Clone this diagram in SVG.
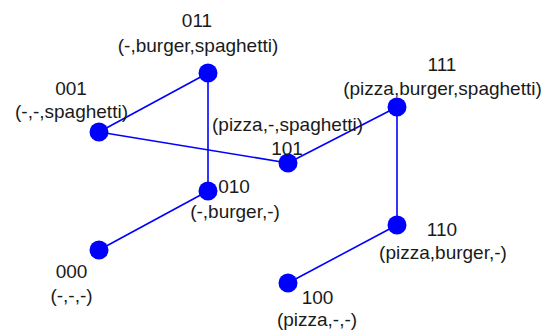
<svg xmlns="http://www.w3.org/2000/svg" width="544" height="332" viewBox="0 0 544 332">
<style>
.e{stroke:#0000ff;stroke-width:1.6;fill:none}
.n{fill:#0000ff}
text{font-family:"Liberation Sans",Arial,sans-serif;font-size:19px;fill:#1a1a1a;text-anchor:middle}
</style>
<rect width="544" height="332" fill="#ffffff"/>
<g id="connectors">
<line class="e" x1="99" y1="132" x2="208" y2="73"/>
<line class="e" x1="99" y1="132" x2="288" y2="163"/>
<line class="e" x1="208" y1="73" x2="208" y2="191"/>
<line class="e" x1="288" y1="163" x2="397" y2="107"/>
<line class="e" x1="397" y1="107" x2="397" y2="225"/>
<line class="e" x1="208" y1="191" x2="99" y2="250"/>
<line class="e" x1="397" y1="225" x2="288" y2="283"/>
</g>
<g id="n011"><circle class="n" cx="208" cy="73" r="9.5"/><text x="197" y="27">011</text><text x="198" y="52">(-,burger,spaghetti)</text></g>
<g id="n001"><circle class="n" cx="99" cy="132" r="9.5"/><text x="71" y="95">001</text><text x="71.5" y="118">(-,-,spaghetti)</text></g>
<g id="n111"><circle class="n" cx="397" cy="107" r="9.5"/><text x="442" y="71">111</text><text x="442.5" y="95">(pizza,burger,spaghetti)</text></g>
<g id="n101"><circle class="n" cx="288" cy="163" r="9.5"/><text x="287.5" y="131">(pizza,-,spaghetti)</text><text x="287" y="155">101</text></g>
<g id="n010"><circle class="n" cx="208" cy="191" r="9.5"/><text x="234" y="193">010</text><text x="235" y="218">(-,burger,-)</text></g>
<g id="n000"><circle class="n" cx="99" cy="250" r="9.5"/><text x="71.5" y="278">000</text><text x="71.5" y="302">(-,-,-)</text></g>
<g id="n110"><circle class="n" cx="397" cy="225" r="9.5"/><text x="442" y="236">110</text><text x="443" y="259">(pizza,burger,-)</text></g>
<g id="n100"><circle class="n" cx="288" cy="283" r="9.5"/><text x="317.5" y="304">100</text><text x="317" y="326">(pizza,-,-)</text></g>
</svg>
